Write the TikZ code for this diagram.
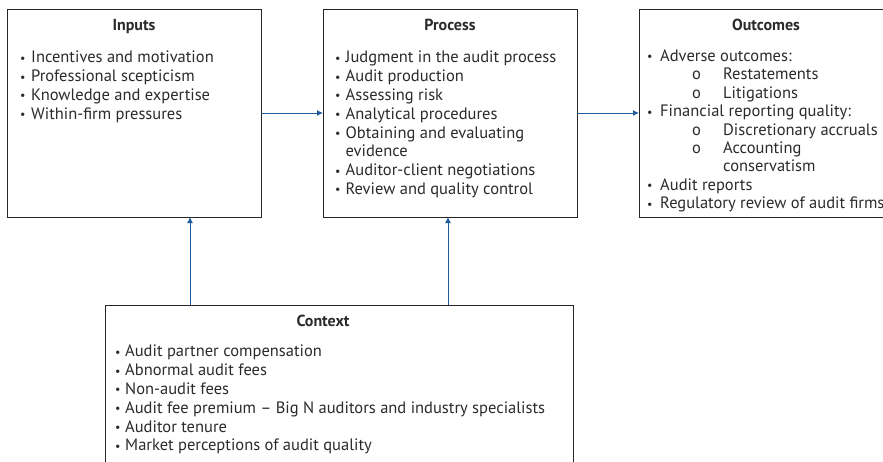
\documentclass[tikz,border=0pt]{standalone}
\usepackage{fontspec}
\setmainfont{PT Sans}
\usetikzlibrary{arrows.meta}
\definecolor{txtc}{HTML}{2B2B2B}
\definecolor{arrc}{HTML}{1F5C9E}
\newlength\bw \setlength\bw{11pt}
\newcommand\bul{\makebox[\bw][l]{\raisebox{0.6pt}{\fontsize{12}{12}\selectfont•}}}
\newcommand\subb[1]{\makebox[45pt]{}\makebox[31pt][l]{o}#1}
\tikzset{
  box/.style={draw=black!85, line width=1pt, fill=white},
  ttl/.style={font=\fontsize{16}{18}\selectfont\bfseries, text=txtc, inner sep=0pt, anchor=base},
  lst/.style={font=\fontsize{16.5}{18.8}\selectfont, text=txtc, align=left, inner sep=0pt, anchor=north west},
  conn/.style={draw=arrc, line width=1pt, -{Latex[length=6pt,width=6pt]}}
}
\begin{document}
\begin{tikzpicture}[x=1pt,y=-1pt]
\useasboundingbox (0,0) rectangle (883,461);
\begin{scope}
\clip (0,0) rectangle (883,461);
\draw[box] (7,9) rectangle (261,217);
\draw[box] (323,9) rectangle (577,217);
\draw[box] (639,9) rectangle (900,217);
\draw[box] (105,305) rectangle (573,480);
\end{scope}
\coordinate (inL) at (7,113); \coordinate (inR) at (261,113);
\coordinate (prL) at (323,113); \coordinate (prR) at (577,113);
\coordinate (ouL) at (639,113);
\coordinate (inB) at (190,217); \coordinate (prB) at (448,217);
\coordinate (cxA) at (190,305); \coordinate (cxB) at (448,305);

\node[ttl] (t1) at (134,30) {Inputs};
\node[ttl] (t2) at (450,30) {Process};
\node[ttl] (t3) at (766,30) {Outcomes};
\node[ttl] (t4) at (323,326) {Context};

\global\bw=11pt
\node[lst] (l1) at (20,51) {\bul Incentives and motivation\\\bul Professional scepticism\\\bul Knowledge and expertise\\\bul Within-firm pressures};
\global\bw=10.5pt
\node[lst] (l2) at (335,51) {\bul Judgment in the audit process\\\bul Audit production\\\bul Assessing risk\\\bul Analytical procedures\\\bul Obtaining and evaluating\\\makebox[\bw]{}evidence\\\bul Auditor-client negotiations\\\bul Review and quality control};
\global\bw=13pt
\node[lst, font=\fontsize{16.5}{18.4}\selectfont] (l3) at (647,49.5) {\bul Adverse outcomes:\\\subb{Restatements}\\\subb{Litigations}\\\bul Financial reporting quality:\\\subb{Discretionary accruals}\\\subb{Accounting}\\\makebox[76pt]{}conservatism\\\bul Audit reports\\\bul Regulatory review of audit firms};
\global\bw=10pt
\node[lst] (l4) at (115,345) {\bul Audit partner compensation\\\bul Abnormal audit fees\\\bul Non-audit fees\\\bul Audit fee premium -- Big N auditors and industry specialists\\\bul Auditor tenure\\\bul Market perceptions of audit quality};

\draw[conn] (inR) -- (prL);
\draw[conn] (prR) -- (ouL);
\draw[conn] (cxA) -- (inB);
\draw[conn] (cxB) -- (prB);
\end{tikzpicture}
\end{document}
